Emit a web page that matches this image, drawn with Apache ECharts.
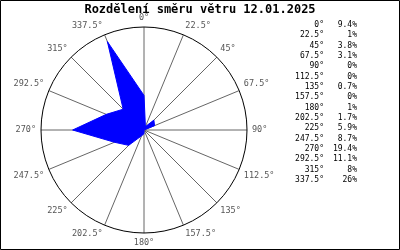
<!DOCTYPE html>
<html><head><meta charset="utf-8">
<script src="https://cdn.jsdelivr.net/npm/echarts@6/dist/echarts.min.js"></script>
<style>html,body{margin:0;padding:0;background:#fff}#c{width:400px;height:250px}</style>
</head><body><div id="c"></div>
<script>
const titleText = 'Rozdělení směru větru 12.01.2025';
const directions = [0, 22.5, 45, 67.5, 90, 112.5, 135, 157.5, 180, 202.5, 225, 247.5, 270, 292.5, 315, 337.5];
const percents = [9.4, 1, 3.8, 3.1, 0, 0, 0.7, 0, 1, 1.7, 5.9, 8.7, 19.4, 11.1, 8, 26];

const font = '"DejaVu Sans Mono", "Liberation Mono", monospace';
const seriesData = directions.map((d, i) => [percents[i], d]);
seriesData.push([percents[0], 360]);

const graphic = [{
  type: 'rect', shape: {x: 0.5, y: 0.5, width: 399, height: 249},
  style: {fill: 'none', stroke: '#000', lineWidth: 1}, silent: true
}];
directions.forEach((d, i) => {
  const y = 25 + i * 10.33;
  graphic.push({type: 'text', x: 324, y: y, style: {text: d + '°', font: '8px ' + font, fill: '#000', align: 'right', verticalAlign: 'middle'}});
  graphic.push({type: 'text', x: 357, y: y, style: {text: percents[i] + '%', font: '8px ' + font, fill: '#000', align: 'right', verticalAlign: 'middle'}});
});

const chart = echarts.init(document.getElementById('c'), null, {renderer: 'canvas'});
chart.setOption({
  animation: false,
  backgroundColor: '#fff',
  title: {text: titleText, left: 'center', top: -1, textStyle: {fontFamily: font, fontSize: 12, fontWeight: 'bold', color: '#000'}},
  polar: {center: [144, 130], radius: 103},
  angleAxis: {
    type: 'value', min: 0, max: 360, interval: 22.5, startAngle: 90, clockwise: true,
    axisLine: {show: true, lineStyle: {color: '#000', width: 1}},
    axisTick: {show: false},
    splitLine: {show: true, lineStyle: {color: '#666', width: 1}},
    axisLabel: {show: true, margin: 5, color: '#555', fontFamily: font, fontSize: 8.5,
      formatter: v => v === 360 ? '' : v + '°'}
  },
  radiusAxis: {
    type: 'value', min: 0, max: 28, show: true,
    axisLine: {show: false}, axisTick: {show: false}, axisLabel: {show: false}, splitLine: {show: false}
  },
  series: [{
    type: 'line', coordinateSystem: 'polar', data: seriesData, showSymbol: false, symbol: 'none',
    lineStyle: {color: '#0000ff', width: 1}, areaStyle: {color: '#0000ff', opacity: 1}
  }],
  graphic: graphic
});
</script></body></html>
